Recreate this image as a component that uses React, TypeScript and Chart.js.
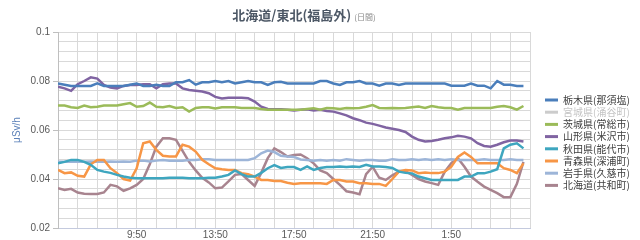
import React, { useEffect, useRef } from 'react';
import { Chart, registerables } from 'chart.js';

Chart.register(...registerables);

// ---- Data (sampled every 20 minutes, starting 5:50) ----
const titleMain = '北海道/東北(福島外)';
const titleSub = '(日間)';
const yAxisTitle = 'μSv/h';

const seriesNames = [
  '栃木県(那須塩)',
  '宮城県(涌谷町)',
  '茨城県(常総市)',
  '山形県(米沢市)',
  '秋田県(能代市)',
  '青森県(深浦町)',
  '岩手県(久慈市)',
  '北海道(共和町)',
];
const seriesColors = ['#4a7ebb', '#cccccc', '#9bbb59', '#8064a2', '#3ea6bf', '#f79646', '#9db5d8', '#a8848f'];

const xTickHours = [4, 8, 12, 16, 20];
const xTickLabels = ['9:50', '13:50', '17:50', '21:50', '1:50'];
const yTickValues = [0.02, 0.04, 0.06, 0.08, 0.1];
const yTickLabels = ['0.02', '0.04', '0.06', '0.08', '0.1'];

const tochigi = [
  0.079, 0.0785, 0.078, 0.078, 0.078, 0.078, 0.079, 0.078, 0.078, 0.078, 0.078, 0.0785,
  0.079, 0.078, 0.078, 0.0785, 0.078, 0.078, 0.0795, 0.0795, 0.0804, 0.0785, 0.0795, 0.0795,
  0.08, 0.0795, 0.08, 0.079, 0.0795, 0.08, 0.0795, 0.0795, 0.0784, 0.0795, 0.0797, 0.079,
  0.079, 0.079, 0.079, 0.079, 0.08, 0.08, 0.079, 0.0784, 0.0795, 0.0795, 0.08, 0.079,
  0.079, 0.0781, 0.079, 0.079, 0.0784, 0.079, 0.079, 0.079, 0.079, 0.079, 0.079, 0.079,
  0.0781, 0.0781, 0.0781, 0.079, 0.0781, 0.0781, 0.077, 0.08, 0.0785, 0.0785, 0.078, 0.078,
];
const miyagi: number[] = []; // listed in the legend only, no line drawn
const ibaraki = [
  0.07, 0.07, 0.0693, 0.069, 0.07, 0.0693, 0.0695, 0.07, 0.07, 0.07, 0.0705, 0.071,
  0.0695, 0.0698, 0.0712, 0.0695, 0.0693, 0.0698, 0.069, 0.0693, 0.0675, 0.069, 0.0693, 0.0693,
  0.0688, 0.0693, 0.0693, 0.0693, 0.069, 0.069, 0.069, 0.0686, 0.0683, 0.0683, 0.0683, 0.0683,
  0.0683, 0.0683, 0.0686, 0.0689, 0.0683, 0.069, 0.0689, 0.0686, 0.069, 0.0689, 0.069, 0.0695,
  0.0702, 0.069, 0.0689, 0.069, 0.0689, 0.069, 0.0693, 0.0696, 0.069, 0.0698, 0.0693, 0.069,
  0.069, 0.0683, 0.069, 0.069, 0.069, 0.069, 0.069, 0.0695, 0.0698, 0.0693, 0.0683, 0.0698,
];
const yamagata = [
  0.0777, 0.077, 0.076, 0.0787, 0.08, 0.0815, 0.081, 0.0784, 0.0773, 0.077, 0.078, 0.0784,
  0.0784, 0.0787, 0.0787, 0.077, 0.0787, 0.079, 0.079, 0.077, 0.0763, 0.076, 0.0757, 0.075,
  0.0735, 0.0729, 0.0732, 0.0732, 0.0732, 0.073, 0.0716, 0.0695, 0.0686, 0.0685, 0.0685, 0.0683,
  0.068, 0.0683, 0.0685, 0.068, 0.0683, 0.0678, 0.0675, 0.0668, 0.066, 0.0648, 0.064, 0.063,
  0.0625, 0.0618, 0.061, 0.0605, 0.06, 0.0592, 0.0573, 0.056, 0.0553, 0.0555, 0.056, 0.0566,
  0.057, 0.0576, 0.0573, 0.0566, 0.0546, 0.0535, 0.0532, 0.054, 0.055, 0.0557, 0.0557, 0.0553,
];
const akita = [
  0.0464, 0.047, 0.0478, 0.0478, 0.047, 0.0458, 0.0437, 0.043, 0.0425, 0.0417, 0.041, 0.0405,
  0.0403, 0.0403, 0.0403, 0.0403, 0.0403, 0.0405, 0.0405, 0.0405, 0.0403, 0.0403, 0.0403, 0.0405,
  0.0405, 0.041, 0.0417, 0.0435, 0.042, 0.041, 0.041, 0.0425, 0.0444, 0.0457, 0.0445, 0.0449,
  0.0449, 0.0437, 0.0451, 0.0437, 0.0445, 0.0449, 0.0449, 0.0451, 0.0449, 0.0451, 0.0449, 0.0458,
  0.0451, 0.0451, 0.0449, 0.0445, 0.043, 0.0425, 0.0423, 0.041, 0.0403, 0.0396, 0.0396, 0.0396,
  0.0396, 0.0396, 0.041, 0.041, 0.0423, 0.0423, 0.043, 0.044, 0.0525, 0.054, 0.0546, 0.0525,
];
const aomori = [
  0.0437, 0.0424, 0.0427, 0.0413, 0.041, 0.046, 0.0478, 0.0478, 0.0444, 0.0424, 0.04, 0.0394,
  0.0444, 0.0546, 0.0553, 0.0519, 0.0495, 0.0492, 0.0492, 0.054, 0.0532, 0.0512, 0.0478, 0.046,
  0.0444, 0.044, 0.0437, 0.0437, 0.0424, 0.042, 0.041, 0.0396, 0.0396, 0.0392, 0.0392, 0.0385,
  0.038, 0.0383, 0.0383, 0.0383, 0.0383, 0.038, 0.0396, 0.0396, 0.039, 0.039, 0.0383, 0.0383,
  0.038, 0.038, 0.0372, 0.04, 0.043, 0.0437, 0.0435, 0.0424, 0.0427, 0.0424, 0.0424, 0.043,
  0.045, 0.049, 0.0508, 0.049, 0.0464, 0.0464, 0.0464, 0.0464, 0.0444, 0.0437, 0.0424, 0.0464,
];
const iwate = [
  0.047, 0.047, 0.047, 0.047, 0.047, 0.0471, 0.047, 0.047, 0.0471, 0.047, 0.0471, 0.047,
  0.0475, 0.0475, 0.0471, 0.0475, 0.0478, 0.0475, 0.0475, 0.0475, 0.0478, 0.0478, 0.0481, 0.0481,
  0.0478, 0.0478, 0.0478, 0.0478, 0.0478, 0.0478, 0.0485, 0.0505, 0.0516, 0.051, 0.0495, 0.0492,
  0.049, 0.048, 0.0478, 0.0475, 0.0478, 0.0475, 0.0478, 0.0475, 0.0481, 0.0478, 0.0475, 0.0478,
  0.0478, 0.0475, 0.0475, 0.0481, 0.0478, 0.0478, 0.0481, 0.0478, 0.0481, 0.0478, 0.0481, 0.0478,
  0.0481, 0.0478, 0.0478, 0.0478, 0.0478, 0.0481, 0.0478, 0.0478, 0.0478, 0.0481, 0.0478, 0.0478,
];
const hokkaido = [
  0.0362, 0.0355, 0.036, 0.0345, 0.034, 0.0339, 0.0339, 0.0345, 0.0376, 0.037, 0.0352, 0.0362,
  0.0376, 0.04, 0.046, 0.0532, 0.0566, 0.0566, 0.056, 0.0515, 0.047, 0.0435, 0.0405, 0.0386,
  0.0362, 0.0365, 0.039, 0.0417, 0.042, 0.0396, 0.0372, 0.0425, 0.0485, 0.0525, 0.051, 0.0492,
  0.0498, 0.05, 0.0485, 0.0464, 0.0435, 0.0424, 0.04, 0.0376, 0.035, 0.0345, 0.0338, 0.042,
  0.045, 0.0405, 0.0396, 0.0415, 0.043, 0.0432, 0.0417, 0.04, 0.039, 0.0383, 0.0376, 0.043,
  0.0465, 0.0485, 0.045, 0.041, 0.0389, 0.0369, 0.0356, 0.0342, 0.0326, 0.0326, 0.038, 0.047,
];

const seriesValues = [tochigi, miyagi, ibaraki, yamagata, akita, aomori, iwate, hokkaido];
const sampleStepHours = 1 / 3;

const FONT = '"Liberation Sans", Arial, sans-serif';
const CJK = '"Noto Sans CJK JP", "Noto Sans", sans-serif';

const overlayPlugin = {
  id: 'overlay',
  afterDraw(chart: any) {
    const ctx = chart.ctx as CanvasRenderingContext2D;
    ctx.save();
    // title
    ctx.textBaseline = 'alphabetic';
    ctx.font = `bold 13px ${CJK}`;
    const w1 = ctx.measureText(titleMain).width;
    ctx.font = `8px ${CJK}`;
    const w2 = ctx.measureText(titleSub).width;
    const gap = 3;
    const start = 304 - (w1 + gap + w2) / 2;
    ctx.fillStyle = '#4d5866';
    ctx.font = `bold 13px ${CJK}`;
    ctx.fillText(titleMain, start, 20);
    ctx.fillStyle = '#8a8a8a';
    ctx.font = `8px ${CJK}`;
    ctx.fillText(titleSub, start + w1 + gap, 20);
    // legend
    const lx = 545;
    const top = 100;
    const rowGap = 12.2;
    chart.data.datasets.forEach((ds: any, i: number) => {
      const y = top + i * rowGap;
      ctx.strokeStyle = ds.borderColor;
      ctx.lineWidth = 3;
      ctx.beginPath();
      ctx.moveTo(lx, y);
      ctx.lineTo(lx + 13, y);
      ctx.stroke();
      ctx.fillStyle = i === 1 ? '#c4c4c4' : '#404040';
      ctx.font = `10px ${CJK}`;
      ctx.textBaseline = 'middle';
      ctx.fillText(ds.label, lx + 18, y);
    });
    ctx.restore();
  },
};

function majorIndex(v: number) {
  return yTickValues.findIndex((t) => Math.abs(t - v) < 1e-7);
}

export default function App() {
  const ref = useRef<HTMLCanvasElement>(null);
  useEffect(() => {
    if (!ref.current) return;
    const datasets = seriesNames.map((name, i) => ({
      label: name,
      data: seriesValues[i].map((v, k) => ({ x: k * sampleStepHours, y: v })),
      borderColor: seriesColors[i],
      backgroundColor: seriesColors[i],
      borderWidth: 2.5,
      pointRadius: 0,
      tension: 0,
      fill: false,
    }));
    const chart = new Chart(ref.current, {
      type: 'line',
      data: { datasets },
      options: {
        responsive: false,
        animation: false,
        layout: { padding: { top: 32, right: 110, bottom: 0, left: 0 } },
        plugins: { legend: { display: false }, title: { display: false }, tooltip: { enabled: false } },
        scales: {
          x: {
            type: 'linear',
            min: 0,
            max: 24,
            afterBuildTicks: (scale: any) => {
              const t = [];
              for (let h = 0; h <= 24; h++) t.push({ value: h });
              scale.ticks = t;
            },
            afterFit: (scale: any) => {
              scale.height = 12;
            },
            ticks: {
              autoSkip: false,
              maxRotation: 0,
              padding: 1,
              color: '#595959',
              font: { family: FONT, size: 10 },
              callback: (v: any) => {
                const idx = xTickHours.indexOf(Number(v));
                return idx >= 0 ? xTickLabels[idx] : '';
              },
            },
            grid: { color: '#d9d9d9', drawTicks: false, lineWidth: 1 },
            border: { color: '#c4cade' },
          },
          y: {
            min: 0.02,
            max: 0.1,
            afterBuildTicks: (scale: any) => {
              const t = [];
              for (let k = 0; k <= 20; k++) t.push({ value: 0.02 + k * 0.004 });
              scale.ticks = t;
            },
            afterFit: (scale: any) => {
              scale.width = 58;
            },
            ticks: {
              autoSkip: false,
              padding: 3,
              color: '#595959',
              font: { family: FONT, size: 10 },
              callback: (v: any) => {
                const idx = majorIndex(Number(v));
                return idx >= 0 ? yTickLabels[idx] : '';
              },
            },
            grid: {
              color: '#d9d9d9',
              lineWidth: 1,
              tickLength: 5,
              tickColor: (c: any) => (c.tick && majorIndex(c.tick.value) >= 0 ? '#bfbfbf' : 'rgba(0,0,0,0)'),
            },
            border: { color: '#bfbfbf' },
            title: {
              display: true,
              text: yAxisTitle,
              color: '#5b80b8',
              font: { family: FONT, size: 10 },
              padding: { top: 11, bottom: 0 },
            },
          },
        },
      },
      plugins: [overlayPlugin],
    } as any);
    return () => chart.destroy();
  }, []);
  return (
    <div style={{ position: 'fixed', left: 0, top: 0, width: 640, height: 240, background: '#fff' }}>
      <canvas ref={ref} width={640} height={240} style={{ display: 'block', width: 640, height: 240 }} />
    </div>
  );
}
